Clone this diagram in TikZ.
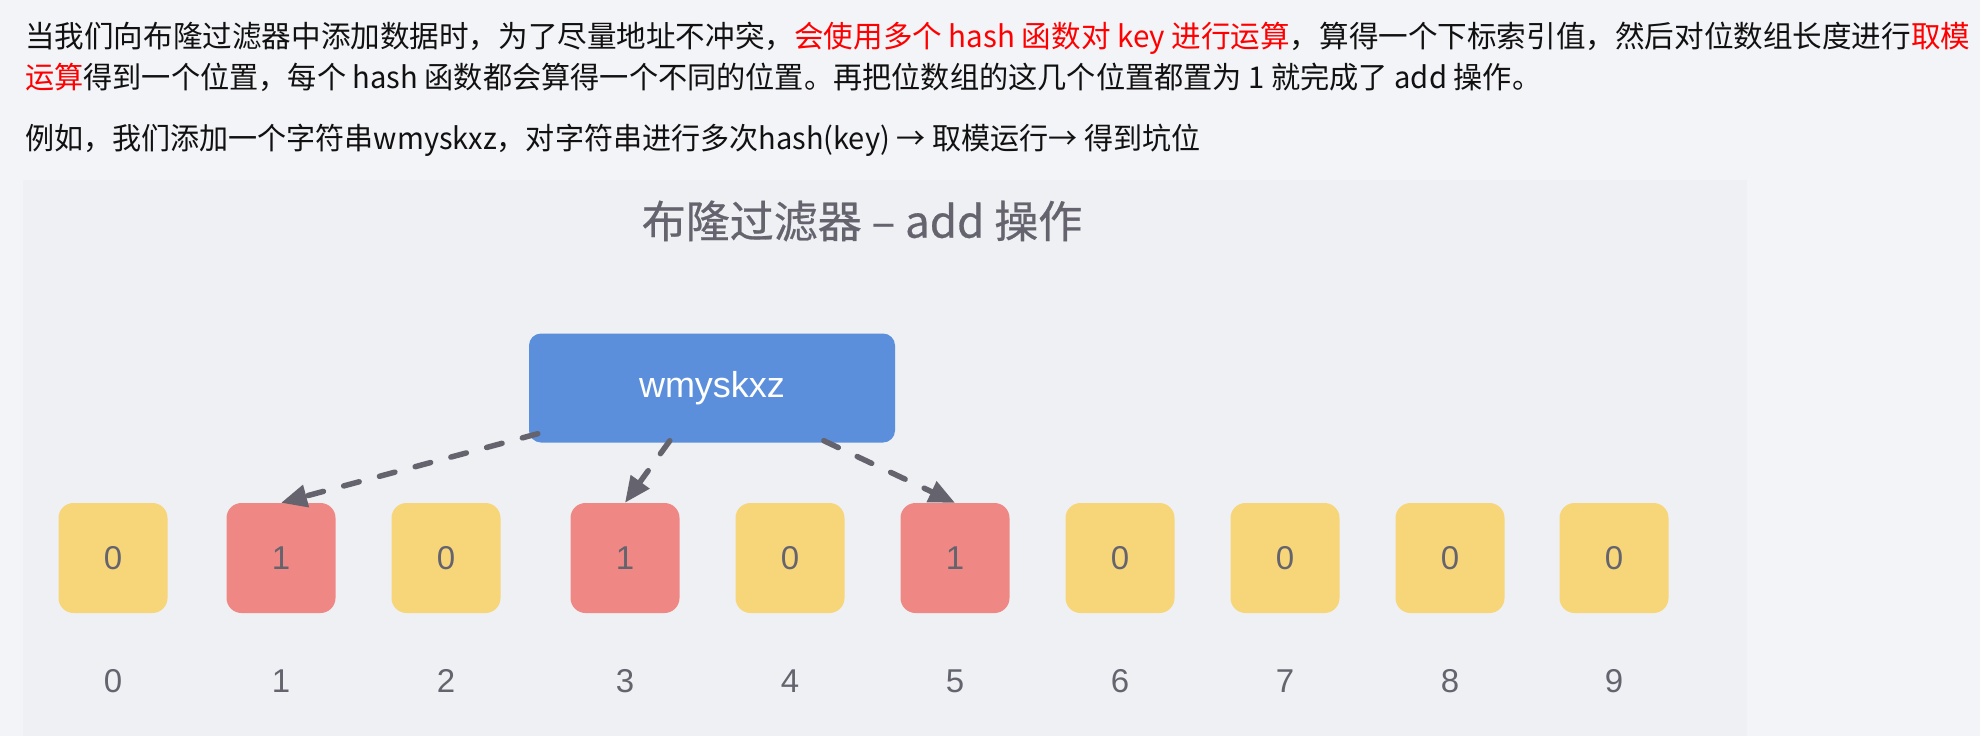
\documentclass[tikz,border=0pt]{standalone}
\usepackage{graphicx}
\usepackage{fontspec}
\setmainfont{Noto Sans CJK SC}
\newfontfamily\latf{Liberation Sans}
\newfontfamily\titlef{Noto Sans CJK SC}[FakeBold=0.6]
\usetikzlibrary{arrows.meta}
\definecolor{pagebg}{HTML}{F3F4F8}
\definecolor{panelbg}{HTML}{EEF0F4}
\definecolor{txt}{HTML}{111111}
\definecolor{hl}{HTML}{FF0000}
\definecolor{gr}{HTML}{65646E}
\definecolor{boxblue}{HTML}{5B8FDC}
\definecolor{yel}{HTML}{F7D679}
\definecolor{redc}{HTML}{EF8884}
\begin{document}
\begin{tikzpicture}[x=1pt,y=-1pt,
  para/.style={anchor=base west, inner sep=0pt, font=\fontsize{30}{36}\selectfont, text=txt},
  cellbase/.style={minimum width=109pt, minimum height=110pt, rounded corners=15pt, inner sep=0pt, text=gr, font=\latf\fontsize{33}{33}\selectfont},
  bitzero/.style={cellbase, fill=yel},
  bitone/.style={cellbase, fill=redc},
  idx/.style={text=gr, font=\latf\fontsize{33}{33}\selectfont, inner sep=0pt},
  conn/.style={draw=gr, line width=5.5pt, line cap=round, dash pattern=on 16pt off 21pt, -{Triangle[length=26pt,width=22pt]}}
]
\useasboundingbox (0,0) rectangle (1980,736);
\fill[pagebg] (0,0) rectangle (1980,736);
\fill[panelbg] (23,180) rectangle (1747,736);

% paragraph text
\node[para] (l1) at (25,48) {\resizebox{1945pt}{\height}{当我们向布隆过滤器中添加数据时，为了尽量地址不冲突，\textcolor{hl}{会使用多个 hash 函数对 key 进行运算}，算得一个下标索引值，然后对位数组长度进行\textcolor{hl}{取模}}};
\node[para] (l2) at (25,88) {\resizebox{1516pt}{\height}{\textcolor{hl}{运算}得到一个位置，每个 hash 函数都会算得一个不同的位置。再把位数组的这几个位置都置为 1 就完成了 add 操作。}};
\node[para] (l3) at (25,149) {\resizebox{1175pt}{\height}{例如，我们添加一个字符串wmyskxz，对字符串进行多次hash(key) → 取模运行→ 得到坑位}};

% title
\node[text=gr, inner sep=0pt, font=\titlef\fontsize{44}{44}\selectfont] (title) at (862,221) {布隆过滤器 – add 操作};

% key box
\node[fill=boxblue, rounded corners=12pt, minimum width=366pt, minimum height=109pt, inner sep=0pt, text=white, font=\latf\fontsize{36}{36}\selectfont] (wm) at (712,388) {wmyskxz};

% cells
\node[bitzero] (c0) at (113,558) {0};
\node[bitone]  (c1) at (281,558) {1};
\node[bitzero] (c2) at (446,558) {0};
\node[bitone]  (c3) at (625,558) {1};
\node[bitzero] (c4) at (790,558) {0};
\node[bitone]  (c5) at (955,558) {1};
\node[bitzero] (c6) at (1120,558) {0};
\node[bitzero] (c7) at (1285,558) {0};
\node[bitzero] (c8) at (1450,558) {0};
\node[bitzero] (c9) at (1614,558) {0};

% indices
\node[idx] (i0) at (113,681) {0};
\node[idx] (i1) at (281,681) {1};
\node[idx] (i2) at (446,681) {2};
\node[idx] (i3) at (625,681) {3};
\node[idx] (i4) at (790,681) {4};
\node[idx] (i5) at (955,681) {5};
\node[idx] (i6) at (1120,681) {6};
\node[idx] (i7) at (1285,681) {7};
\node[idx] (i8) at (1450,681) {8};
\node[idx] (i9) at (1614,681) {9};

% connectors
\draw[conn] ([xshift=9pt,yshift=9pt]wm.south west) -- (c1.north);
\draw[conn] ([xshift=141pt,yshift=2pt]wm.south west) -- (c3.north);
\draw[conn] ([xshift=295pt,yshift=2pt]wm.south west) -- (c5.north);
\end{tikzpicture}
\end{document}
